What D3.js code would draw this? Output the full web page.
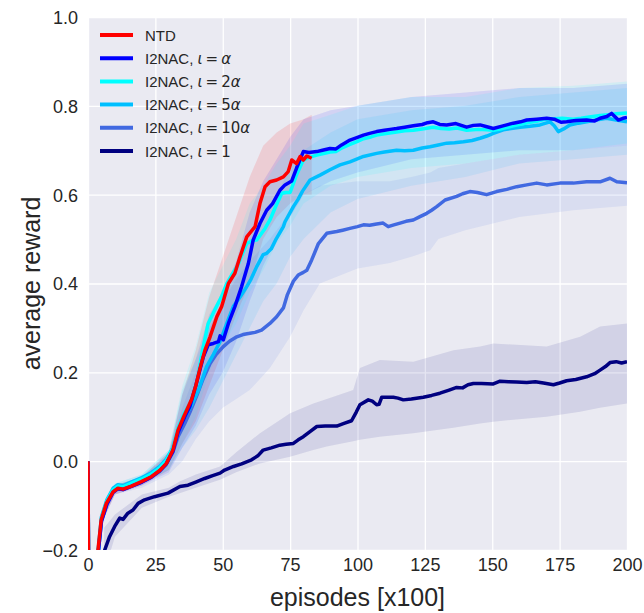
<!DOCTYPE html>
<html>
<head>
<meta charset="utf-8">
<script src="https://cdn.jsdelivr.net/npm/d3@7"></script>
<style>
  body { margin: 0; background: #fff; }
  text { font-family: "Liberation Sans", Arial, sans-serif; fill: #262626; }
</style>
</head>
<body>
<div id="chart"></div>
<script>
// episodes (x100) vs average reward
var xTicks = [0, 25, 50, 75, 100, 125, 150, 175, 200];
var yTicks = [-0.2, 0.0, 0.2, 0.4, 0.6, 0.8, 1.0];

var seriesNames = ["NTD", "I2NAC, ι = α", "I2NAC, ι = 2α", "I2NAC, ι = 5α", "I2NAC, ι = 10α", "I2NAC, ι = 1"];
var seriesColors = ["#ff0000", "#0000ff", "#00ffff", "#00bfff", "#4169e1", "#000080"];

var ntd = [[0,0.0],[0.4,-0.5],[3.2,-0.5],[3.7,-0.2],[4.9,-0.132],[6.8,-0.095],[9.3,-0.069],[11.1,-0.061],[13,-0.063],[16.1,-0.056],[19.8,-0.046],[23.5,-0.035],[26.6,-0.021],[29.1,-0.005],[31.5,0.025],[33.4,0.07],[35.5,0.1],[38.5,0.14],[40,0.17],[41.6,0.21],[43.4,0.25],[45.3,0.28],[47.8,0.325],[49.6,0.348],[52.1,0.4],[54.5,0.423],[56.4,0.46],[58.9,0.505],[62,0.528],[63.8,0.58],[65.7,0.618],[67.5,0.629],[70,0.633],[72.5,0.64],[74.3,0.652],[75.6,0.678],[77.4,0.67],[78.7,0.686],[79.9,0.678],[81.2,0.687],[83,0.682]];

var i2nacA = [[0,0.0],[0.4,-0.5],[3.4,-0.5],[3.9,-0.2],[5,-0.135],[7,-0.097],[9.3,-0.07],[11.1,-0.062],[13,-0.064],[16,-0.057],[20,-0.047],[23.5,-0.036],[26.6,-0.022],[29,-0.006],[31.5,0.022],[33.4,0.065],[35.9,0.1],[37.8,0.123],[40,0.17],[42.8,0.235],[44.6,0.262],[46.5,0.265],[48.4,0.269],[49,0.282],[50.2,0.273],[52.1,0.31],[54.5,0.348],[57,0.393],[59.5,0.445],[61.3,0.498],[63.8,0.535],[66.3,0.565],[68.5,0.58],[71.2,0.61],[73.1,0.622],[75.6,0.631],[77.4,0.66],[79.9,0.697],[82,0.695],[84.9,0.697],[87,0.7],[89.8,0.704],[92,0.703],[94.1,0.712],[97.2,0.723],[99.5,0.728],[102.2,0.734],[104.5,0.738],[107.1,0.742],[110,0.745],[112.1,0.747],[114.5,0.749],[117.5,0.752],[120.7,0.755],[124,0.758],[126,0.762],[128.1,0.764],[130.5,0.758],[133.1,0.757],[136.5,0.76],[140.5,0.752],[143,0.756],[145.5,0.757],[148,0.753],[150.4,0.749],[154,0.755],[157.8,0.761],[160.5,0.764],[162.8,0.768],[166.5,0.77],[170.2,0.772],[173,0.77],[175.5,0.763],[177.6,0.764],[181,0.767],[185,0.768],[188,0.766],[190,0.772],[192.5,0.776],[194.3,0.783],[196.8,0.768],[198.5,0.772],[200,0.774]];

var i2nac2A = [[0,0.0],[0.4,-0.5],[3.3,-0.5],[3.8,-0.2],[5,-0.128],[7,-0.09],[9.3,-0.064],[11.1,-0.056],[13,-0.058],[16,-0.05],[20,-0.04],[23.5,-0.029],[26.6,-0.015],[29,0.001],[31.5,0.03],[33.4,0.075],[35.9,0.11],[38.3,0.135],[40.5,0.18],[42.5,0.25],[44.6,0.31],[47,0.34],[49.5,0.37],[51.5,0.4],[53.3,0.419],[55.5,0.44],[57.5,0.47],[58.9,0.49],[61.3,0.497],[62.6,0.498],[65.7,0.524],[67.5,0.543],[69.4,0.57],[71.9,0.603],[73.5,0.605],[75,0.605],[77.4,0.645],[79.9,0.678],[82,0.684],[84.9,0.689],[87,0.692],[89.8,0.696],[92,0.697],[94.1,0.705],[97.2,0.713],[100,0.72],[102.2,0.726],[105,0.73],[107.1,0.734],[110,0.737],[114.5,0.741],[117.5,0.744],[120.7,0.745],[124,0.748],[128,0.752],[131,0.749],[134,0.748],[137,0.75],[140.5,0.745],[145,0.747],[148,0.746],[150.4,0.745],[153,0.748],[157.8,0.755],[160,0.758],[163,0.762],[166.5,0.765],[170,0.77],[173,0.771],[176,0.772],[180,0.77],[183,0.772],[186,0.775],[190,0.778],[193,0.78],[196,0.782],[200,0.784]];

var i2nac5A = [[0,0.0],[0.4,-0.5],[3.3,-0.5],[3.8,-0.2],[5,-0.125],[7,-0.087],[9.3,-0.061],[11.1,-0.053],[13,-0.055],[16,-0.047],[20,-0.037],[23.5,-0.026],[26.6,-0.012],[29,0.004],[31.5,0.03],[33.4,0.068],[35.9,0.1],[38.3,0.125],[41,0.16],[44,0.213],[46.5,0.24],[49,0.269],[51.5,0.31],[53.9,0.348],[56.5,0.37],[58.9,0.393],[60.5,0.41],[62.6,0.438],[65,0.465],[66.3,0.468],[68,0.478],[69.8,0.5],[72.5,0.528],[73.1,0.539],[76.2,0.573],[78,0.59],[79.6,0.608],[82.4,0.633],[86.1,0.644],[89.8,0.656],[93.5,0.667],[97.2,0.674],[102.2,0.686],[107.1,0.693],[110,0.696],[114.5,0.7],[117.5,0.699],[120.7,0.7],[124,0.705],[126.9,0.708],[130,0.712],[133.1,0.716],[136,0.717],[139.3,0.719],[142.5,0.722],[145.5,0.727],[148,0.732],[150.4,0.738],[154.1,0.746],[157,0.749],[160.3,0.752],[164,0.754],[167.7,0.757],[171.4,0.764],[173,0.755],[174.5,0.742],[176.5,0.748],[178.8,0.757],[182,0.761],[185,0.764],[188.5,0.768],[192.4,0.772],[196,0.768],[200,0.764]];

var i2nac10A = [[0,0.0],[0.4,-0.5],[3.4,-0.5],[3.9,-0.2],[5,-0.135],[7,-0.097],[9.3,-0.07],[11.1,-0.062],[13,-0.064],[16,-0.057],[20,-0.047],[23.5,-0.036],[26.6,-0.023],[29,-0.008],[31.5,0.02],[33.4,0.055],[35.9,0.085],[37.8,0.11],[40.5,0.15],[42.7,0.185],[45.3,0.22],[47.5,0.24],[50.2,0.258],[52.5,0.27],[55.2,0.28],[57.5,0.285],[60.1,0.288],[62,0.29],[64.4,0.295],[67.5,0.31],[70,0.325],[72.5,0.345],[74,0.375],[76.2,0.405],[78,0.419],[79.9,0.425],[81.2,0.43],[83,0.453],[85.5,0.49],[88.6,0.513],[92.3,0.517],[94.5,0.52],[97.2,0.524],[100,0.528],[102.2,0.532],[104.5,0.531],[107.1,0.534],[109.5,0.536],[111.4,0.528],[113.5,0.532],[115.8,0.536],[118,0.54],[120.7,0.543],[123,0.55],[125.7,0.558],[127.5,0.565],[129.4,0.573],[132.5,0.588],[136.8,0.596],[139,0.602],[141.7,0.607],[144.5,0.605],[147.9,0.6],[151.6,0.607],[155.4,0.612],[159.1,0.618],[162.8,0.622],[166.5,0.626],[170.2,0.622],[175.1,0.626],[180.1,0.626],[185,0.629],[190,0.629],[193.7,0.637],[196.2,0.629],[200,0.627]];

var i2nac1 = [[0,-0.5],[5.8,-0.25],[6.2,-0.2],[8,-0.17],[9.9,-0.147],[11.8,-0.128],[13,-0.131],[14.8,-0.117],[16.7,-0.11],[18.6,-0.095],[21,-0.087],[24.7,-0.08],[29.7,-0.072],[34.1,-0.057],[37.1,-0.054],[40,-0.047],[43.3,-0.039],[46,-0.033],[49,-0.027],[50.7,-0.02],[54,-0.012],[57,-0.006],[60.7,0.003],[63,0.012],[65,0.025],[68,0.03],[71.2,0.036],[73.5,0.038],[76.2,0.04],[78,0.048],[79.9,0.055],[82,0.065],[84.9,0.078],[88,0.079],[92.3,0.079],[95,0.085],[97.8,0.091],[99.5,0.11],[100.9,0.127],[104,0.138],[105.5,0.135],[107.1,0.127],[108,0.128],[109,0.144],[113.3,0.144],[115,0.142],[117,0.138],[120,0.14],[124.4,0.144],[127.5,0.148],[130.6,0.153],[134,0.16],[136.8,0.166],[139,0.165],[141,0.172],[143,0.175],[146,0.175],[150.4,0.174],[152.9,0.18],[156,0.179],[159,0.178],[162.8,0.177],[166,0.179],[169,0.176],[172.7,0.172],[175,0.176],[177.6,0.181],[181,0.184],[185,0.19],[188,0.197],[190,0.205],[192,0.213],[193.7,0.222],[196,0.224],[198,0.221],[200,0.224]];

// shaded bands: [episode, lower, upper]
var ntdBand = [[5,-0.14,-0.12],[10,-0.075,-0.055],[20,-0.055,-0.035],[30,-0.02,0.02],[35,0.04,0.15],[40,0.09,0.25],[45,0.17,0.37],[50,0.25,0.46],[55,0.33,0.55],[60,0.4,0.64],[65,0.5,0.71],[70,0.55,0.74],[75,0.58,0.76],[80,0.6,0.77],[83,0.6,0.78]];
var i2nacABand = [[5,-0.14,-0.12],[10,-0.075,-0.055],[20,-0.055,-0.035],[30,-0.025,0.015],[35,0.03,0.15],[40,0.08,0.23],[45,0.15,0.33],[50,0.2,0.38],[55,0.27,0.45],[60,0.36,0.56],[65,0.44,0.63],[70,0.5,0.68],[75,0.55,0.73],[80,0.6,0.77],[90,0.63,0.79],[100,0.65,0.8],[120,0.68,0.82],[140,0.69,0.83],[160,0.7,0.84],[180,0.7,0.84],[200,0.71,0.85]];
var i2nac2ABand = [[5,-0.135,-0.115],[10,-0.07,-0.05],[20,-0.05,-0.03],[30,-0.02,0.025],[35,0.04,0.17],[40,0.1,0.26],[45,0.2,0.38],[50,0.26,0.44],[55,0.31,0.5],[60,0.38,0.58],[65,0.43,0.62],[70,0.49,0.67],[75,0.53,0.71],[80,0.58,0.76],[90,0.62,0.78],[100,0.64,0.8],[120,0.66,0.82],[140,0.67,0.82],[160,0.69,0.84],[180,0.7,0.845],[200,0.715,0.855]];
var i2nac5ABand = [[5,-0.135,-0.115],[10,-0.07,-0.05],[20,-0.05,-0.03],[30,-0.02,0.025],[35,0.03,0.16],[40,0.07,0.23],[45,0.12,0.3],[50,0.18,0.36],[55,0.24,0.44],[60,0.3,0.5],[65,0.36,0.56],[70,0.4,0.6],[75,0.46,0.66],[80,0.5,0.7],[90,0.56,0.74],[100,0.59,0.77],[120,0.62,0.79],[140,0.64,0.8],[160,0.67,0.82],[180,0.68,0.83],[200,0.69,0.84]];
var i2nac10ABand = [[5,-0.14,-0.12],[10,-0.075,-0.055],[20,-0.06,-0.035],[30,-0.03,0.02],[35,0.0,0.12],[40,0.05,0.2],[45,0.09,0.3],[50,0.12,0.36],[55,0.14,0.41],[60,0.16,0.45],[67.5,0.21,0.5],[75,0.28,0.56],[80,0.34,0.6],[86,0.4,0.62],[100,0.434,0.63],[112,0.446,0.63],[120,0.46,0.64],[127,0.475,0.65],[130,0.5,0.66],[140,0.52,0.67],[160,0.55,0.69],[180,0.565,0.7],[200,0.575,0.71]];
var i2nac1Band = [[6,-0.25,-0.15],[10,-0.17,-0.12],[20,-0.105,-0.075],[30,-0.08,-0.06],[34,-0.072,-0.046],[40,-0.06,-0.03],[49,-0.042,-0.012],[55,-0.025,0.02],[63.8,-0.005,0.063],[75,0.01,0.108],[83.6,0.025,0.13],[88.6,0.033,0.14],[98.4,0.045,0.16],[100.9,0.048,0.21],[108.3,0.055,0.228],[120.7,0.063,0.224],[135.6,0.075,0.25],[145.5,0.085,0.258],[150.4,0.089,0.265],[170.2,0.1,0.258],[182.6,0.111,0.28],[190,0.12,0.303],[200,0.13,0.31]];

var lines = [ntd, i2nacA, i2nac2A, i2nac5A, i2nac10A, i2nac1];
var bands = [ntdBand, i2nacABand, i2nac2ABand, i2nac5ABand, i2nac10ABand, i2nac1Band];

var width = 644, height = 613;
var margin = {top: 17, right: 17, bottom: 63, left: 88};
var plotW = width - margin.left - margin.right;
var plotH = height - margin.top - margin.bottom;

var svg = d3.select("#chart").append("svg")
    .attr("width", width)
    .attr("height", height);

var x = d3.scaleLinear().domain([0, 200]).range([margin.left, margin.left + plotW]);
var y = d3.scaleLinear().domain([-0.2, 1.0]).range([margin.top + plotH, margin.top]);

svg.append("rect")
    .attr("x", margin.left).attr("y", margin.top)
    .attr("width", plotW).attr("height", plotH)
    .attr("fill", "#eaeaf2");

svg.append("clipPath").attr("id", "clip")
  .append("rect")
    .attr("x", margin.left).attr("y", margin.top)
    .attr("width", plotW).attr("height", plotH);

// grid + tick labels
var xAxis = svg.append("g")
    .attr("transform", "translate(0," + (margin.top + plotH) + ")")
    .call(d3.axisBottom(x).tickValues(xTicks).tickSize(-plotH).tickPadding(8).tickFormat(d3.format("d")));
var yAxis = svg.append("g")
    .attr("transform", "translate(" + margin.left + ",0)")
    .call(d3.axisLeft(y).tickValues(yTicks).tickSize(-plotW).tickPadding(10).tickFormat(d3.format(".1f")));
[xAxis, yAxis].forEach(function(g) {
    g.select(".domain").remove();
    g.selectAll(".tick line").attr("stroke", "#fff").attr("stroke-width", 1.3);
    g.selectAll(".tick text")
        .style("font-family", "'Liberation Sans', Arial, sans-serif")
        .style("font-size", "18px")
        .attr("fill", "#262626");
});
yAxis.selectAll(".tick text").attr("dy", "0.36em");

var plot = svg.append("g").attr("clip-path", "url(#clip)");

var area = d3.area()
    .x(function(d) { return x(d[0]); })
    .y0(function(d) { return y(d[1]); })
    .y1(function(d) { return y(d[2]); });

plot.selectAll("path.band")
    .data(bands)
    .enter().append("path")
    .attr("class", "band")
    .attr("d", area)
    .attr("fill", function(d, i) { return seriesColors[i]; })
    .attr("fill-opacity", function(d, i) { return i === 0 ? 0.12 : 0.1; });

var line = d3.line()
    .x(function(d) { return x(d[0]); })
    .y(function(d) { return y(d[1]); });

// draw order: navy first, red last (red sits on top)
var order = [5, 4, 3, 2, 1, 0];
plot.selectAll("path.series")
    .data(order)
    .enter().append("path")
    .attr("class", "series")
    .attr("d", function(i) { return line(lines[i]); })
    .attr("fill", "none")
    .attr("stroke", function(i) { return seriesColors[i]; })
    .attr("stroke-width", 3.5)
    .attr("stroke-linejoin", "round");

// axis titles
svg.append("text")
    .attr("x", margin.left + plotW / 2)
    .attr("y", 606)
    .attr("text-anchor", "middle")
    .style("font-size", "25px")
    .text("episodes [x100]");

svg.append("text")
    .attr("transform", "translate(40," + (margin.top + plotH / 2) + ") rotate(-90)")
    .attr("text-anchor", "middle")
    .style("font-size", "25px")
    .text("average reward");

// legend
var legend = svg.append("g").attr("transform", "translate(100,35)");
var rows = legend.selectAll("g")
    .data(seriesNames)
    .enter().append("g")
    .attr("transform", function(d, i) { return "translate(0," + (i * 23.2) + ")"; });

rows.append("line")
    .attr("x1", 0).attr("x2", 33)
    .attr("stroke", function(d, i) { return seriesColors[i]; })
    .attr("stroke-width", 4);

rows.each(function(name) {
    var t = d3.select(this).append("text")
        .attr("x", 45).attr("y", 5.5)
        .style("font-size", "15px");
    var cut = name.indexOf(", ");
    if (cut < 0) { t.text(name); return; }
    t.append("tspan").text(name.slice(0, cut + 2));
    // math part like matplotlib mathtext (DejaVu)
    name.slice(cut + 2).split("").forEach(function(ch) {
        if (ch === " ") { t.append("tspan").text("\u2009").style("font-family", "'DejaVu Sans'"); return; }
        var greek = (ch === "ι" || ch === "α");
        t.append("tspan").text(ch)
            .style("font-family", "'DejaVu Sans'")
            .style("font-style", greek ? "italic" : "normal");
    });
});
</script>
</body>
</html>
